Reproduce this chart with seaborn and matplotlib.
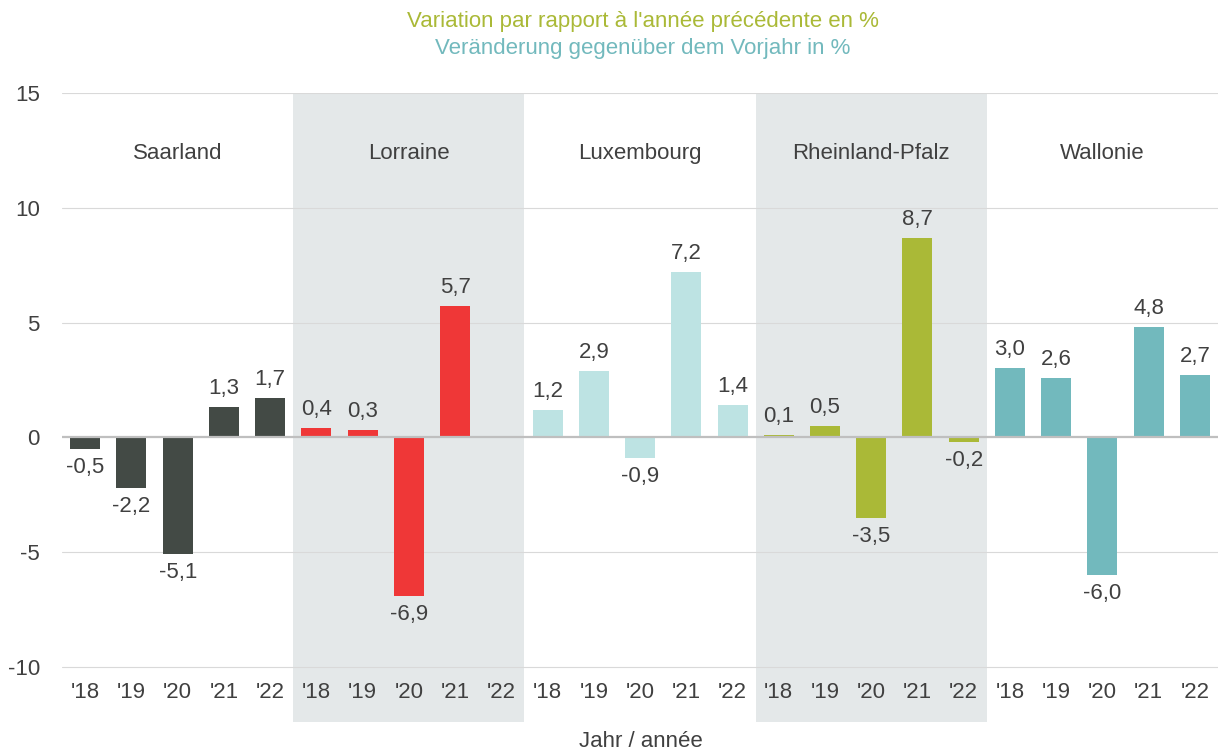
import matplotlib
matplotlib.use("Agg")
import matplotlib.pyplot as plt
import numpy as np
import pandas as pd
import seaborn as sns

# ── Data ────────────────────────────────────────────────────
regions = ["Saarland", "Lorraine", "Luxembourg", "Rheinland-Pfalz", "Wallonie"]
years = ["'18", "'19", "'20", "'21", "'22"]

saarland = [-0.5, -2.2, -5.1, 1.3, 1.7]
lorraine = [0.4, 0.3, -6.9, 5.7, np.nan]
luxembourg = [1.2, 2.9, -0.9, 7.2, 1.4]
rheinland_pfalz = [0.1, 0.5, -3.5, 8.7, -0.2]
wallonie = [3.0, 2.6, -6.0, 4.8, 2.7]

series = [saarland, lorraine, luxembourg, rheinland_pfalz, wallonie]

COLORS = {
    "Saarland": "#434A45",
    "Lorraine": "#EF3737",
    "Luxembourg": "#BDE3E3",
    "Rheinland-Pfalz": "#AAB937",
    "Wallonie": "#72B9BD",
}
TEXT = "#404040"
FS = 16

rows = []
for reg, vals in zip(regions, series):
    for yr, v in zip(years, vals):
        rows.append({"key": f"{reg}{yr}", "Region": reg, "Year": yr, "Value": v})
df = pd.DataFrame(rows)
order = df["key"].tolist()

# ── Style ───────────────────────────────────────────────────
sns.set_theme(style="white")
plt.rcParams["font.family"] = ["Liberation Sans", "DejaVu Sans"]

fig = plt.figure(figsize=(12.18, 7.51), dpi=100)
ax = fig.add_axes([0.051, 0.0386, 0.949, 0.8376])

sns.barplot(
    data=df, x="key", y="Value", hue="Region", order=order,
    palette=COLORS, dodge=False, width=0.65, ax=ax,
    legend=False, zorder=3, saturation=1, linewidth=0,
)

ax.set_xlim(-0.5, len(order) - 0.5)
ax.set_ylim(-12.4, 15)

# shaded groups
for gi in (1, 3):
    ax.axvspan(gi * 5 - 0.5, gi * 5 + 4.5, color="#E4E8E9", zorder=0, lw=0)

# gridlines
for yv in range(-10, 16, 5):
    if yv == 0:
        continue
    ax.axhline(yv, color="#D9D9D9", lw=0.8, zorder=1)
ax.axhline(0, color="#BFBFBF", lw=1.6, zorder=4)

ax.set_yticks(range(-10, 16, 5))
ax.set_yticklabels([str(v) for v in range(-10, 16, 5)], fontsize=FS, color=TEXT)
ax.tick_params(axis="y", length=0, pad=16)
ax.set_xticks([])
ax.set_xlabel("")
ax.set_ylabel("")
for s in ax.spines.values():
    s.set_visible(False)

# x labels, group labels, value labels
for i, row in df.iterrows():
    ax.text(i, -11.1, row["Year"], ha="center", va="center", fontsize=FS, color=TEXT)
    v = row["Value"]
    if np.isnan(v):
        continue
    lab = f"{v:.1f}".replace(".", ",")
    if v >= 0:
        ax.text(i, v + 0.35, lab, ha="center", va="bottom", fontsize=FS, color=TEXT)
    else:
        ax.text(i, v - 0.35, lab, ha="center", va="top", fontsize=FS, color=TEXT)

for gi, reg in enumerate(regions):
    ax.text(gi * 5 + 2, 12.35, reg, ha="center", va="center", fontsize=FS, color=TEXT)

fig.text(0.528, 0.971, "Variation par rapport à l'année précédente en %",
         ha="center", va="center", fontsize=FS, color="#AAB937")
fig.text(0.528, 0.936, "Veränderung gegenüber dem Vorjahr in %",
         ha="center", va="center", fontsize=FS, color="#72B9BD")
fig.text(0.526, 0.012, "Jahr / année", ha="center", va="center", fontsize=FS, color=TEXT)

plt.savefig("out.png", dpi=100)
plt.close()
